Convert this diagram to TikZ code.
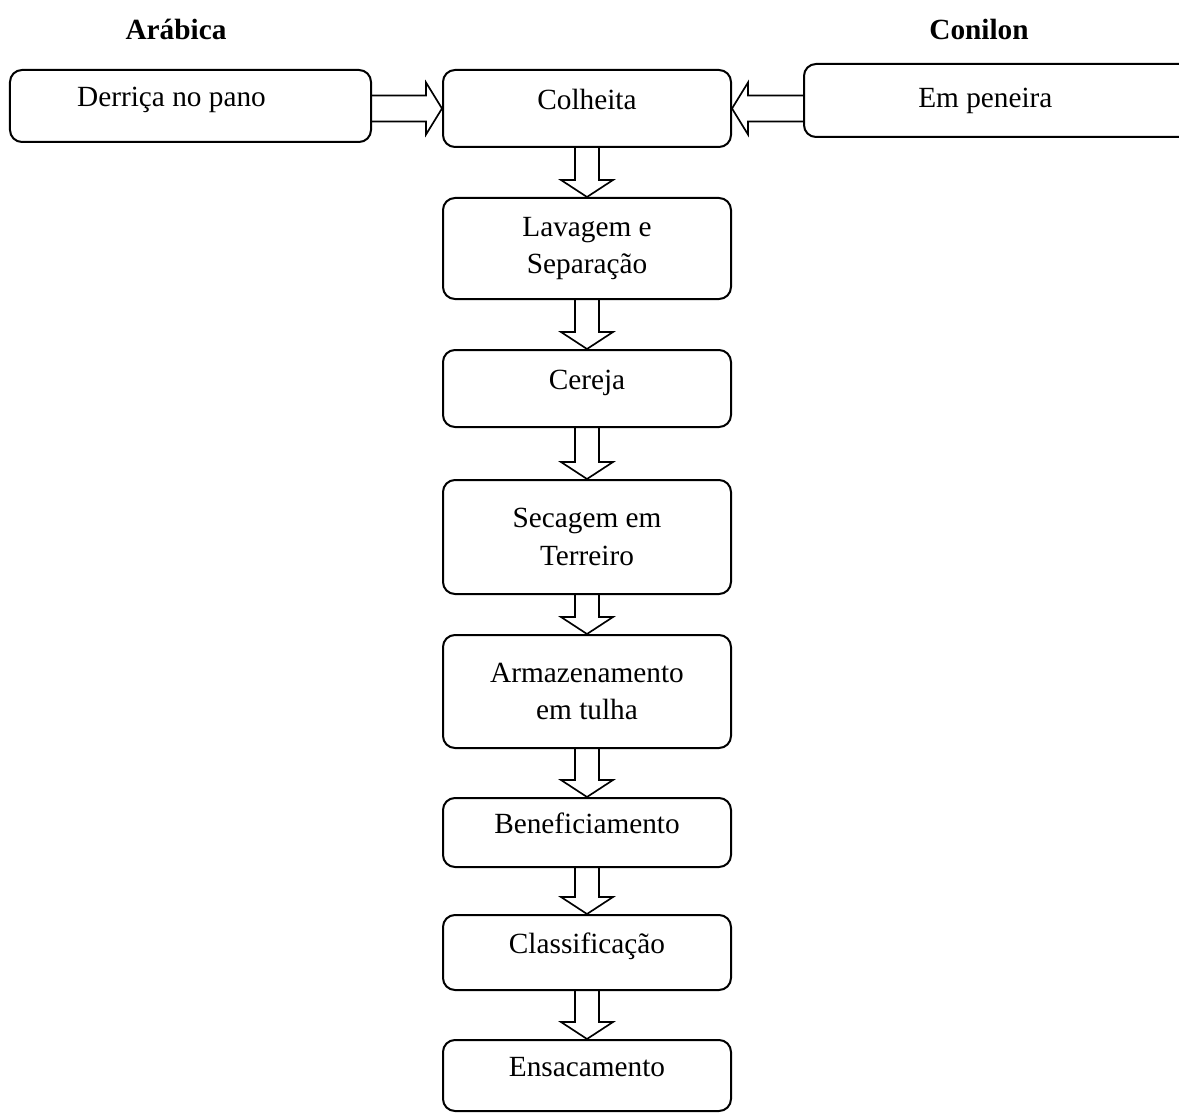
\documentclass[tikz,border=0pt]{standalone}
\usepackage{fontspec}
\setmainfont{Liberation Serif}
\usetikzlibrary{calc}

\newcommand{\flowdown}[2]{%
  \draw[black,line width=0.5mm] ($(#1.south)+(-12,0)$) -- ($(#2.north)+(-12,-17)$) -- ($(#2.north)+(-26,-17)$) -- (#2.north) -- ($(#2.north)+(26,-17)$) -- ($(#2.north)+(12,-17)$) -- ($(#1.south)+(12,0)$);}
\newcommand{\flowright}[2]{%
  \draw[black,line width=0.5mm] ($(#1.east |- #2.west)+(0,-13)$) -- ($(#2.west)+(-16,-13)$) -- ($(#2.west)+(-16,-26)$) -- (#2.west) -- ($(#2.west)+(-16,26)$) -- ($(#2.west)+(-16,13)$) -- ($(#1.east |- #2.west)+(0,13)$);}
\newcommand{\flowleft}[2]{%
  \draw[black,line width=0.5mm] ($(#1.west |- #2.east)+(0,-13)$) -- ($(#2.east)+(16,-13)$) -- ($(#2.east)+(16,-26)$) -- (#2.east) -- ($(#2.east)+(16,26)$) -- ($(#2.east)+(16,13)$) -- ($(#1.west |- #2.east)+(0,13)$);}

\begin{document}
\begin{tikzpicture}[x=0.3mm,y=-0.3mm,
   every node/.style={font=\fontsize{25pt}{32pt}\selectfont},
   titletext/.style={font=\fontsize{25pt}{32pt}\selectfont\bfseries},
   stepbox/.style={draw=black,line width=0.6mm,rounded corners=3.6mm,align=center,minimum width=86.4mm},
   lifted/.style={text height=18.75pt,text depth=17.25pt}]
   \useasboundingbox (0,0) rectangle (1179,1113);
   \node[titletext] (arabica) at (176,29) {Arábica};
   \node[titletext] (conilon) at (979,29) {Conilon};
   \node[stepbox,lifted,minimum width=108.3mm,minimum height=21.6mm] (derrica) at (190.5,106) {Derriça no pano\hspace*{1.3em}};
   \node[stepbox,minimum width=117.6mm,minimum height=21.9mm] (peneira) at (1000,100.5) {Em peneira\hspace*{1em}};
   \node[stepbox,lifted,minimum height=23.1mm] (colheita) at (587,108.5) {Colheita};
   \node[stepbox,minimum height=30.3mm] (lavagem) at (587,248.5) {Lavagem e\\Separação};
   \node[stepbox,lifted,minimum height=23.1mm] (cereja) at (587,388.5) {Cereja};
   \node[stepbox,minimum height=34.2mm] (secagem) at (587,537) {Secagem em\\Terreiro};
   \node[stepbox,minimum height=33.9mm] (armazen) at (587,691.5) {Armazenamento\\em tulha};
   \node[stepbox,lifted,minimum height=20.7mm] (benef) at (587,832.5) {Beneficiamento};
   \node[stepbox,lifted,minimum height=22.5mm] (classif) at (587,952.5) {Classificação};
   \node[stepbox,lifted,minimum height=21.3mm] (ensaca) at (587,1075.5) {Ensacamento};
   \flowright{derrica}{colheita}
   \flowleft{peneira}{colheita}
   \flowdown{colheita}{lavagem}
   \flowdown{lavagem}{cereja}
   \flowdown{cereja}{secagem}
   \flowdown{secagem}{armazen}
   \flowdown{armazen}{benef}
   \flowdown{benef}{classif}
   \flowdown{classif}{ensaca}
\end{tikzpicture}
\end{document}
